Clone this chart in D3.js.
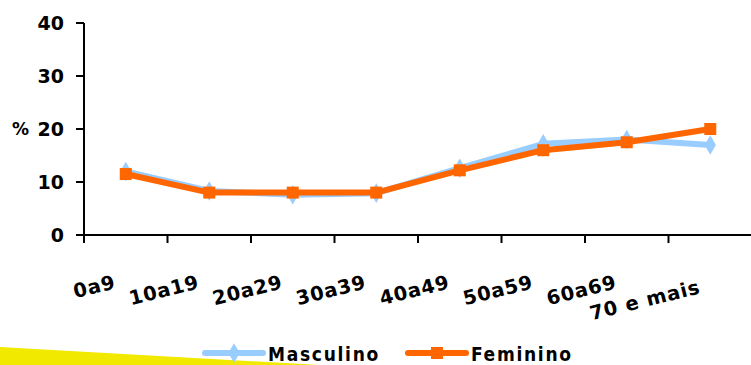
<!DOCTYPE html>
<html><head><meta charset="utf-8">
<script src="https://cdn.jsdelivr.net/npm/d3@7"></script>
<style>
html,body{margin:0;padding:0;background:#fff;}
svg{display:block;}
</style></head>
<body>
<svg id="c" width="751" height="365"></svg>
<script>
const categories = ["0a9","10a19","20a29","30a39","40a49","50a59","60a69","70 e mais"];
const masculino = [12, 8.3, 7.6, 7.9, 12.6, 17.2, 18, 17];
const feminino  = [11.5, 8, 8, 8, 12.2, 16, 17.5, 20];
const yTicks = [0, 10, 20, 30, 40];
const seriesNames = ["Masculino", "Feminino"];

const svg = d3.select("#c");
const x = d3.scaleBand().domain(categories).range([84, 752]);
const y = d3.scaleLinear().domain([0, 40]).range([235, 23]);
const cx = d => x(d) + x.bandwidth() / 2;

// yellow decoration
svg.append("polygon").attr("points", "0,347 320,365 0,365").attr("fill", "#f2e900");

const fontNum = "'DejaVu Sans', Verdana, sans-serif";

// y axis
svg.append("line").attr("x1", 84).attr("x2", 84).attr("y1", y(40)).attr("y2", 243)
  .attr("stroke", "#000").attr("stroke-width", 2);
svg.selectAll(".yt").data(yTicks).enter().append("line")
  .attr("x1", 76).attr("x2", 84).attr("y1", d => y(d)).attr("y2", d => y(d))
  .attr("stroke", "#000").attr("stroke-width", 2);
svg.selectAll(".yl").data(yTicks).enter().append("text")
  .attr("x", 64).attr("y", d => y(d)).attr("dy", "0.36em")
  .attr("text-anchor", "end").attr("font-family", fontNum).attr("font-weight", "bold")
  .attr("font-size", 19).text(d => d);
svg.append("text").attr("x", 12).attr("y", y(20)).attr("dy", "0.36em")
  .attr("font-family", fontNum).attr("font-weight", "bold").attr("font-size", 17).text("%");

// x axis
svg.append("line").attr("x1", 84).attr("x2", 751).attr("y1", y(0)).attr("y2", y(0))
  .attr("stroke", "#000").attr("stroke-width", 2);
svg.selectAll(".xt").data(categories).enter().append("line")
  .attr("x1", d => x(d)).attr("x2", d => x(d)).attr("y1", y(0)).attr("y2", 243)
  .attr("stroke", "#000").attr("stroke-width", 2);
svg.selectAll(".xl").data(categories).enter().append("text")
  .attr("transform", (d, i) => `translate(${cx(d) - 9},${i === categories.length - 1 ? 293 : 288}) rotate(-14)`)
  .attr("text-anchor", "end").attr("font-family", fontNum).attr("font-weight", "bold")
  .attr("font-size", 19.5).attr("letter-spacing", 0.8).text(d => d);

// lines
const line = d3.line().x(d => cx(d[0])).y(d => y(d[1]));
const mData = categories.map((c, i) => [c, masculino[i]]);
const fData = categories.map((c, i) => [c, feminino[i]]);
const blue = "#99ccff", orange = "#ff6600";

svg.append("path").datum(mData).attr("d", line).attr("fill", "none")
  .attr("stroke", blue).attr("stroke-width", 6).attr("stroke-linejoin", "round");
const diamond = d3.symbol().type(d3.symbolDiamond).size(110);
svg.selectAll(".md").data(mData).enter().append("path")
  .attr("d", diamond).attr("transform", d => `translate(${cx(d[0])},${y(d[1])})`)
  .attr("fill", blue);

svg.append("path").datum(fData).attr("d", line).attr("fill", "none")
  .attr("stroke", orange).attr("stroke-width", 6).attr("stroke-linejoin", "round");
svg.selectAll(".fs").data(fData).enter().append("rect")
  .attr("x", d => cx(d[0]) - 6).attr("y", d => y(d[1]) - 6)
  .attr("width", 12).attr("height", 12).attr("fill", orange);

// legend
const legFont = "'Liberation Sans Narrow', 'DejaVu Sans Condensed', Arial, sans-serif";
const lg = [
  {name: seriesNames[0], x: 205, color: blue, shape: "diamond"},
  {name: seriesNames[1], x: 408, color: orange, shape: "square"}
];
lg.forEach(l => {
  svg.append("line").attr("x1", l.x).attr("x2", l.x + 58).attr("y1", 353).attr("y2", 353)
    .attr("stroke", l.color).attr("stroke-width", 6).attr("stroke-linecap", "round");
  if (l.shape === "diamond") {
    svg.append("path").attr("d", diamond).attr("transform", `translate(${l.x + 29},353)`).attr("fill", l.color);
  } else {
    svg.append("rect").attr("x", l.x + 23).attr("y", 347).attr("width", 12).attr("height", 12).attr("fill", l.color);
  }
  svg.append("text").attr("x", l.x + 63).attr("y", 361)
    .attr("font-family", legFont).attr("font-weight", "bold").attr("font-size", 19)
    .attr("letter-spacing", 1.7).text(l.name);
});
</script>
</body></html>
